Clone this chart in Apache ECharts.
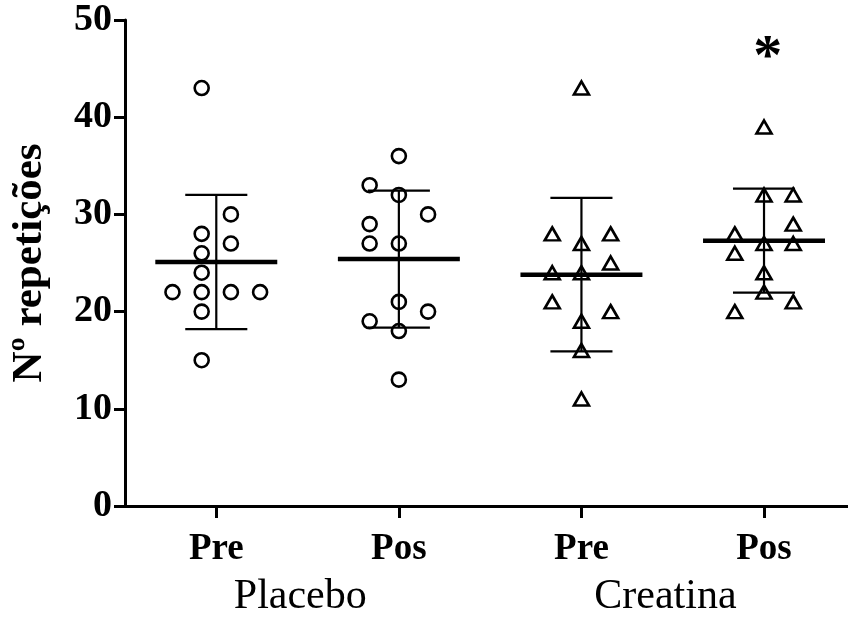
<!DOCTYPE html>
<html>
<head>
<meta charset="utf-8">
<script src="https://cdn.jsdelivr.net/npm/echarts@6/dist/echarts.min.js"></script>
<style>
  html, body { margin: 0; padding: 0; background: #fff; }
  #chart { width: 848px; height: 618px; }
</style>
</head>
<body>
<div id="chart"></div>
<script>
// Condition labels along the x axis and the two treatment groups beneath them
const categories = ['Pre', 'Pos', 'Pre', 'Pos'];
const groups = ['Placebo', 'Creatina'];

// Individual repetition counts per condition, with the dot-plot column each point sits in
const placeboPre = [43, 30, 28, 27, 26, 24, 22, 22, 22, 22, 20, 15];
const placeboPreCol = [-0.5, 0.5, -0.5, 0.5, -0.5, -0.5, -1.5, -0.5, 0.5, 1.5, -0.5, -0.5];
const placeboPos = [36, 33, 32, 30, 29, 27, 27, 21, 20, 19, 18, 13];
const placeboPosCol = [0, -1, 0, 1, -1, -1, 0, 0, 1, -1, 0, 0];
const creatinaPre = [43, 28, 28, 27, 25, 24, 24, 21, 20, 19, 16, 11];
const creatinaPreCol = [0, -1, 1, 0, 1, -1, 0, -1, 1, 0, 0, 0];
const creatinaPos = [39, 32, 32, 29, 28, 27, 27, 26, 24, 22, 21, 20];
const creatinaPosCol = [0, 0, 1, 1, -1, 0, 1, -1, 0, 0, 1, -1];

// Mean and standard deviation per condition
const means = [25.1, 25.4, 23.8, 27.3];
const sds = [6.9, 7.05, 7.9, 5.35];

// Significance marks per condition
const significance = ['', '', '', '*'];

// Y axis ticks
const yMin = 0, yMax = 50, yStep = 10;

const FONT = 'Liberation Serif';
const COL_STEP = 0.16;     // horizontal spacing between dot columns (axis units)
const MEAN_HALF = 0.334;   // half width of the mean bar
const CAP_HALF = 0.17;     // half width of the SD caps

function points(values, cols, pos) {
  return values.map((v, i) => [pos + cols[i] * COL_STEP, v]);
}

const chart = echarts.init(document.getElementById('chart'), null, { renderer: 'canvas' });

const markStyle = { color: 'rgba(0,0,0,0)', borderColor: '#000', borderWidth: 2.6, opacity: 1 };

chart.setOption({
  animation: false,
  backgroundColor: '#fff',
  grid: { left: 124, right: 0, top: 20, bottom: 112, containLabel: false },
  xAxis: [
    {
      type: 'value', min: 0.5, max: 4.46,
      axisLine: { show: true, onZero: false, lineStyle: { color: '#000', width: 3 } },
      axisTick: { show: true, customValues: [1, 2, 3, 4], length: 12, lineStyle: { color: '#000', width: 3 } },
      axisLabel: {
        customValues: [1, 2, 3, 4],
        formatter: v => categories[Math.round(v) - 1],
        margin: 25, color: '#000', fontFamily: FONT, fontWeight: 'bold', fontSize: 37
      },
      splitLine: { show: false }
    },
    {
      type: 'value', min: 0.5, max: 4.46, position: 'bottom',
      axisLine: { show: false }, axisTick: { show: false },
      axisLabel: {
        customValues: [1.46, 3.46],
        formatter: v => (v < 2.5 ? groups[0] : groups[1]),
        margin: 70, color: '#000', fontFamily: FONT, fontSize: 42
      },
      splitLine: { show: false }
    }
  ],
  yAxis: {
    type: 'value', min: yMin, max: yMax, interval: yStep,
    name: 'Nº repetições', nameLocation: 'middle', nameGap: 74,
    nameTextStyle: { color: '#000', fontFamily: FONT, fontWeight: 'bold', fontSize: 43 },
    axisLine: { show: true, lineStyle: { color: '#000', width: 3 } },
    axisTick: { show: true, length: 11, lineStyle: { color: '#000', width: 3 } },
    axisLabel: { margin: 13, color: '#000', fontFamily: FONT, fontWeight: 'bold', fontSize: 38 },
    splitLine: { show: false }
  },
  series: [
    {
      type: 'scatter', symbol: 'circle', symbolSize: 14, itemStyle: markStyle,
      data: points(placeboPre, placeboPreCol, 1), z: 3
    },
    {
      type: 'scatter', symbol: 'circle', symbolSize: 14, itemStyle: markStyle,
      data: points(placeboPos, placeboPosCol, 2), z: 3
    },
    {
      type: 'scatter', symbol: 'triangle', symbolSize: [15, 13], itemStyle: markStyle,
      data: points(creatinaPre, creatinaPreCol, 3), z: 3
    },
    {
      type: 'scatter', symbol: 'triangle', symbolSize: [15, 13], itemStyle: markStyle,
      data: points(creatinaPos, creatinaPosCol, 4), z: 3
    },
    {
      // mean bar with +/- SD whiskers
      type: 'custom', z: 4,
      data: means.map((m, i) => [i + 1, m, sds[i]]),
      renderItem: function (params, api) {
        const x = api.value(0), m = api.value(1), s = api.value(2);
        const top = api.coord([x, m + s]);
        const bot = api.coord([x, m - s]);
        const mL = api.coord([x - MEAN_HALF, m]);
        const mR = api.coord([x + MEAN_HALF, m]);
        const cL = api.coord([x - CAP_HALF, m]);
        const cR = api.coord([x + CAP_HALF, m]);
        const thin = { stroke: '#000', lineWidth: 2.2 };
        return {
          type: 'group',
          children: [
            { type: 'line', shape: { x1: top[0], y1: top[1], x2: bot[0], y2: bot[1] }, style: thin },
            { type: 'line', shape: { x1: cL[0], y1: top[1], x2: cR[0], y2: top[1] }, style: thin },
            { type: 'line', shape: { x1: cL[0], y1: bot[1], x2: cR[0], y2: bot[1] }, style: thin },
            { type: 'line', shape: { x1: mL[0], y1: mL[1], x2: mR[0], y2: mR[1] }, style: { stroke: '#000', lineWidth: 4.5 } }
          ]
        };
      }
    },
    {
      // significance marker above the group
      type: 'scatter', symbol: 'circle', symbolSize: 1, z: 5,
      itemStyle: { color: 'rgba(0,0,0,0)' },
      data: significance.map((s, i) => ({ value: [i + 1.02, 46.0], mark: s })).filter(d => d.mark),
      label: {
        show: true, position: 'inside',
        formatter: p => p.data.mark,
        color: '#000', opacity: 1, textBorderWidth: 0,
        fontFamily: FONT, fontWeight: 'bold', fontSize: 58
      }
    }
  ]
});
</script>
</body>
</html>
